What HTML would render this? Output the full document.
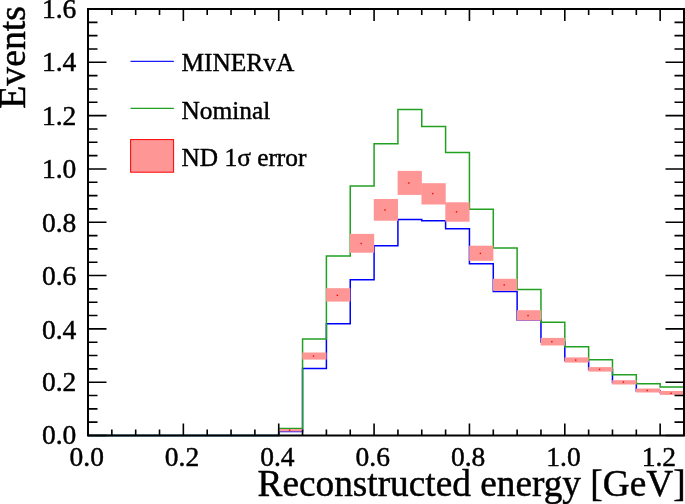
<!DOCTYPE html><html><head><meta charset="utf-8"><style>html,body{margin:0;padding:0;background:#fff;}svg{display:block;will-change:transform;}text{font-family:"Liberation Serif",serif;fill:#000;stroke:#000;stroke-width:0.45px;}</style></head><body>
<svg width="685" height="504" viewBox="0 0 685 504">
<rect width="685" height="504" fill="#fff"/>
<path d="M88.00,435.50 L278.72,435.50 L278.72,431.60 L302.56,431.60 L302.56,368.40 L326.40,368.40 L326.40,323.70 L350.24,323.70 L350.24,279.80 L374.08,279.80 L374.08,245.70 L397.92,245.70 L397.92,219.50 L421.76,219.50 L421.76,220.70 L445.60,220.70 L445.60,228.70 L469.44,228.70 L469.44,263.80 L493.28,263.80 L493.28,291.50 L517.12,291.50 L517.12,320.10 L540.96,320.10 L540.96,342.00 L564.80,342.00 L564.80,360.50 L588.64,360.50 L588.64,369.50 L612.48,369.50 L612.48,382.50 L636.32,382.50 L636.32,391.00 L660.16,391.00 L660.16,392.50 L684.00,392.50" fill="none" stroke="#0000ff" stroke-width="1.5"/>
<path d="M88.00,435.50 L278.72,435.50 L278.72,428.60 L302.56,428.60 L302.56,339.10 L326.40,339.10 L326.40,256.10 L350.24,256.10 L350.24,185.90 L374.08,185.90 L374.08,143.80 L397.92,143.80 L397.92,109.50 L421.76,109.50 L421.76,126.40 L445.60,126.40 L445.60,152.40 L469.44,152.40 L469.44,209.20 L493.28,209.20 L493.28,248.00 L517.12,248.00 L517.12,289.50 L540.96,289.50 L540.96,322.30 L564.80,322.30 L564.80,346.70 L588.64,346.70 L588.64,359.80 L612.48,359.80 L612.48,374.80 L636.32,374.80 L636.32,383.80 L660.16,383.80 L660.16,387.00 L684.00,387.00" fill="none" stroke="#22a022" stroke-width="1.5"/>
<rect x="278.42" y="429.00" width="24.24" height="2.50" fill="#ff9696"/>
<rect x="302.26" y="352.50" width="24.24" height="7.10" fill="#ff9696"/>
<rect x="326.10" y="288.20" width="24.24" height="13.40" fill="#ff9696"/>
<rect x="349.94" y="233.90" width="24.24" height="18.80" fill="#ff9696"/>
<rect x="373.78" y="199.00" width="24.24" height="21.70" fill="#ff9696"/>
<rect x="397.62" y="170.90" width="24.24" height="24.00" fill="#ff9696"/>
<rect x="421.46" y="183.20" width="24.24" height="21.30" fill="#ff9696"/>
<rect x="445.30" y="202.30" width="24.24" height="19.40" fill="#ff9696"/>
<rect x="469.14" y="245.70" width="24.24" height="15.10" fill="#ff9696"/>
<rect x="492.98" y="278.80" width="24.24" height="12.00" fill="#ff9696"/>
<rect x="516.82" y="310.20" width="24.24" height="10.40" fill="#ff9696"/>
<rect x="540.66" y="337.90" width="24.24" height="7.60" fill="#ff9696"/>
<rect x="564.50" y="357.40" width="24.24" height="5.20" fill="#ff9696"/>
<rect x="588.34" y="367.10" width="24.24" height="4.50" fill="#ff9696"/>
<rect x="612.18" y="380.20" width="24.24" height="4.30" fill="#ff9696"/>
<rect x="636.02" y="388.50" width="24.24" height="4.00" fill="#ff9696"/>
<rect x="659.86" y="391.00" width="24.24" height="3.90" fill="#ff9696"/>
<rect x="288.94" y="429.50" width="1.4" height="1.4" fill="#ff0000"/>
<rect x="312.78" y="355.40" width="1.4" height="1.4" fill="#ff0000"/>
<rect x="336.62" y="294.60" width="1.4" height="1.4" fill="#ff0000"/>
<rect x="360.46" y="242.80" width="1.4" height="1.4" fill="#ff0000"/>
<rect x="384.30" y="209.30" width="1.4" height="1.4" fill="#ff0000"/>
<rect x="408.14" y="182.30" width="1.4" height="1.4" fill="#ff0000"/>
<rect x="431.98" y="192.90" width="1.4" height="1.4" fill="#ff0000"/>
<rect x="455.82" y="211.10" width="1.4" height="1.4" fill="#ff0000"/>
<rect x="479.66" y="252.70" width="1.4" height="1.4" fill="#ff0000"/>
<rect x="503.50" y="284.20" width="1.4" height="1.4" fill="#ff0000"/>
<rect x="527.34" y="314.90" width="1.4" height="1.4" fill="#ff0000"/>
<rect x="551.18" y="341.00" width="1.4" height="1.4" fill="#ff0000"/>
<rect x="575.02" y="359.40" width="1.4" height="1.4" fill="#ff0000"/>
<rect x="598.86" y="368.70" width="1.4" height="1.4" fill="#ff0000"/>
<rect x="622.70" y="381.40" width="1.4" height="1.4" fill="#ff0000"/>
<rect x="646.54" y="389.80" width="1.4" height="1.4" fill="#ff0000"/>
<rect x="670.38" y="392.60" width="1.4" height="1.4" fill="#ff0000"/>
<rect x="88.0" y="9.0" width="596.00" height="426.50" fill="none" stroke="#000" stroke-width="2"/>
<path d="M88.00,435.5 V423.5 M88.00,9.0 V21.0 M111.84,435.5 V429.5 M111.84,9.0 V15.0 M135.68,435.5 V429.5 M135.68,9.0 V15.0 M159.52,435.5 V429.5 M159.52,9.0 V15.0 M183.36,435.5 V423.5 M183.36,9.0 V21.0 M207.20,435.5 V429.5 M207.20,9.0 V15.0 M231.04,435.5 V429.5 M231.04,9.0 V15.0 M254.88,435.5 V429.5 M254.88,9.0 V15.0 M278.72,435.5 V423.5 M278.72,9.0 V21.0 M302.56,435.5 V429.5 M302.56,9.0 V15.0 M326.40,435.5 V429.5 M326.40,9.0 V15.0 M350.24,435.5 V429.5 M350.24,9.0 V15.0 M374.08,435.5 V423.5 M374.08,9.0 V21.0 M397.92,435.5 V429.5 M397.92,9.0 V15.0 M421.76,435.5 V429.5 M421.76,9.0 V15.0 M445.60,435.5 V429.5 M445.60,9.0 V15.0 M469.44,435.5 V423.5 M469.44,9.0 V21.0 M493.28,435.5 V429.5 M493.28,9.0 V15.0 M517.12,435.5 V429.5 M517.12,9.0 V15.0 M540.96,435.5 V429.5 M540.96,9.0 V15.0 M564.80,435.5 V423.5 M564.80,9.0 V21.0 M588.64,435.5 V429.5 M588.64,9.0 V15.0 M612.48,435.5 V429.5 M612.48,9.0 V15.0 M636.32,435.5 V429.5 M636.32,9.0 V15.0 M660.16,435.5 V423.5 M660.16,9.0 V21.0 M88.0,435.50 H106.5 M684.0,435.50 H665.5 M88.0,422.17 H97.5 M684.0,422.17 H674.5 M88.0,408.84 H97.5 M684.0,408.84 H674.5 M88.0,395.52 H97.5 M684.0,395.52 H674.5 M88.0,382.19 H106.5 M684.0,382.19 H665.5 M88.0,368.86 H97.5 M684.0,368.86 H674.5 M88.0,355.53 H97.5 M684.0,355.53 H674.5 M88.0,342.20 H97.5 M684.0,342.20 H674.5 M88.0,328.88 H106.5 M684.0,328.88 H665.5 M88.0,315.55 H97.5 M684.0,315.55 H674.5 M88.0,302.22 H97.5 M684.0,302.22 H674.5 M88.0,288.89 H97.5 M684.0,288.89 H674.5 M88.0,275.56 H106.5 M684.0,275.56 H665.5 M88.0,262.23 H97.5 M684.0,262.23 H674.5 M88.0,248.91 H97.5 M684.0,248.91 H674.5 M88.0,235.58 H97.5 M684.0,235.58 H674.5 M88.0,222.25 H106.5 M684.0,222.25 H665.5 M88.0,208.92 H97.5 M684.0,208.92 H674.5 M88.0,195.59 H97.5 M684.0,195.59 H674.5 M88.0,182.27 H97.5 M684.0,182.27 H674.5 M88.0,168.94 H106.5 M684.0,168.94 H665.5 M88.0,155.61 H97.5 M684.0,155.61 H674.5 M88.0,142.28 H97.5 M684.0,142.28 H674.5 M88.0,128.95 H97.5 M684.0,128.95 H674.5 M88.0,115.62 H106.5 M684.0,115.62 H665.5 M88.0,102.30 H97.5 M684.0,102.30 H674.5 M88.0,88.97 H97.5 M684.0,88.97 H674.5 M88.0,75.64 H97.5 M684.0,75.64 H674.5 M88.0,62.31 H106.5 M684.0,62.31 H665.5 M88.0,48.98 H97.5 M684.0,48.98 H674.5 M88.0,35.66 H97.5 M684.0,35.66 H674.5 M88.0,22.33 H97.5 M684.0,22.33 H674.5 M88.0,9.00 H106.5 M684.0,9.00 H665.5" stroke="#000" stroke-width="1.6" fill="none"/>
<text x="76.3" y="444.00" font-size="27.5" text-anchor="end">0.0</text>
<text x="76.3" y="391.29" font-size="27.5" text-anchor="end">0.2</text>
<text x="76.3" y="338.78" font-size="27.5" text-anchor="end">0.4</text>
<text x="76.3" y="284.66" font-size="27.5" text-anchor="end">0.6</text>
<text x="76.3" y="232.15" font-size="27.5" text-anchor="end">0.8</text>
<text x="76.3" y="178.04" font-size="27.5" text-anchor="end">1.0</text>
<text x="76.3" y="124.72" font-size="27.5" text-anchor="end">1.2</text>
<text x="76.3" y="71.41" font-size="27.5" text-anchor="end">1.4</text>
<text x="76.3" y="18.10" font-size="27.5" text-anchor="end">1.6</text>
<text x="86.70" y="466" font-size="27.5" text-anchor="middle">0.0</text>
<text x="182.06" y="466" font-size="27.5" text-anchor="middle">0.2</text>
<text x="277.42" y="466" font-size="27.5" text-anchor="middle">0.4</text>
<text x="372.78" y="466" font-size="27.5" text-anchor="middle">0.6</text>
<text x="468.14" y="466" font-size="27.5" text-anchor="middle">0.8</text>
<text x="563.50" y="466" font-size="27.5" text-anchor="middle">1.0</text>
<text x="658.86" y="466" font-size="27.5" text-anchor="middle">1.2</text>
<text x="685.6" y="495.7" font-size="37.3" text-anchor="end">Reconstructed energy [GeV]</text>
<text transform="translate(24.85,6.1) rotate(-90)" font-size="37.7" text-anchor="end">Events</text>
<path d="M131,61.3 H173.4" stroke="#1a1aff" stroke-width="1.3" stroke-linecap="round"/>
<path d="M131,108.3 H173.4" stroke="#22a022" stroke-width="1.3" stroke-linecap="round"/>
<rect x="130.6" y="139.6" width="43" height="32.6" fill="#ff9696" stroke="#ff0000" stroke-width="1"/>
<text x="181.5" y="70.75" font-size="25.6" textLength="112.8" lengthAdjust="spacingAndGlyphs">MINERvA</text>
<text x="181.5" y="119.1" font-size="25.6" textLength="88.7" lengthAdjust="spacingAndGlyphs">Nominal</text>
<text x="181.5" y="165.6" font-size="25.6" textLength="124.9" lengthAdjust="spacingAndGlyphs">ND 1σ error</text>
</svg></body></html>
